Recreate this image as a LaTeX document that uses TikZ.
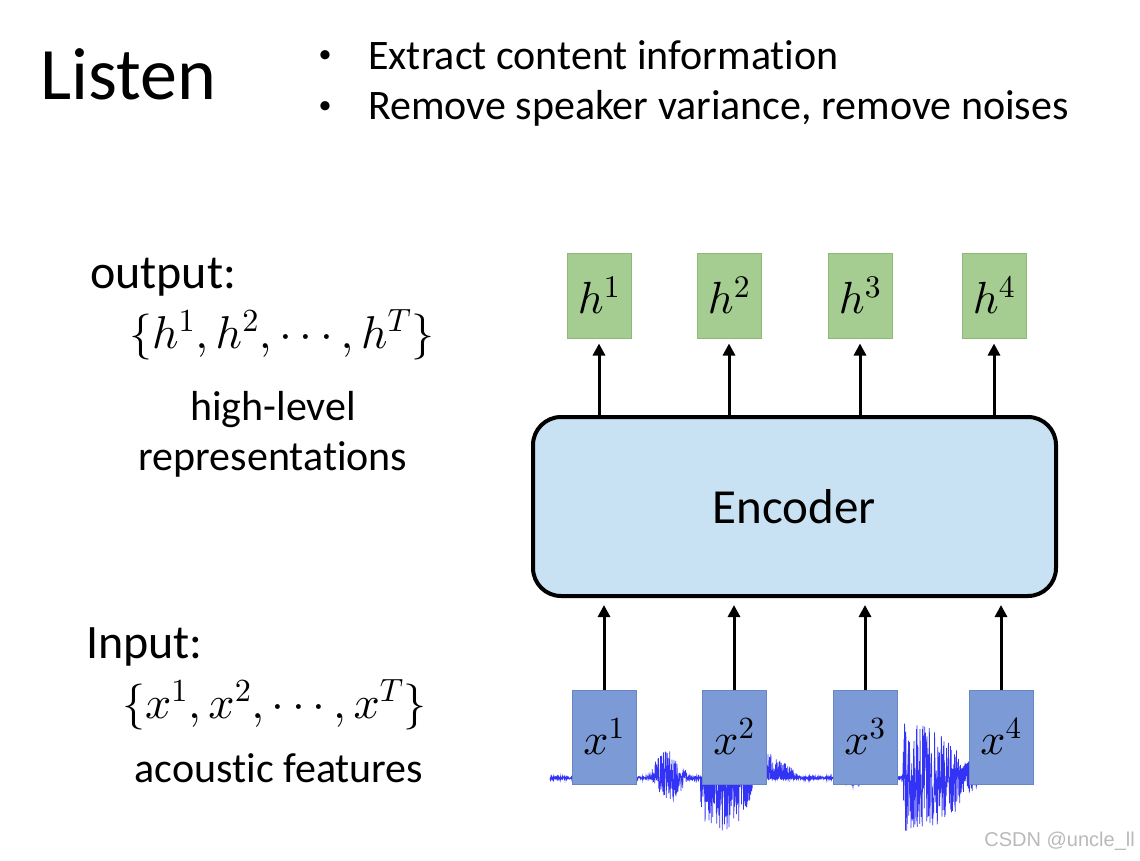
\RequirePackage{fix-cm}
\documentclass[tikz,border=0pt]{standalone}
\usepackage{fontspec}
\setmainfont{Carlito}[Ligatures=NoCommon]
\newfontfamily\wmfont{Liberation Sans}
\DeclareFontShape{OML}{cmm}{m}{it}{<->cmmi10}{}
\DeclareFontShape{OMS}{cmsy}{m}{n}{<->cmsy10}{}
\DeclareFontShape{OT1}{cmr}{m}{n}{<->cmr10}{}
\usepackage{tikz}
\usetikzlibrary{arrows.meta}

\definecolor{hgreen}{RGB}{166,205,145}
\definecolor{hgreenline}{RGB}{140,186,118}
\definecolor{xblue}{RGB}{124,154,214}
\definecolor{xblueline}{RGB}{104,134,198}
\definecolor{encfill}{RGB}{200,225,243}
\definecolor{wave}{RGB}{15,15,245}

\begin{document}
\begin{tikzpicture}[x=1pt,y=-1pt,
	declare function={
		bump(\t,\c,\w)=max(0,1-((\t-\c)/\w)*((\t-\c)/\w));
		up(\t)=1.5+26*bump(\t,668,20)+26*bump(\t,755,45)*(\t>705)+3*bump(\t,850,10)+55*bump(\t,905,75)*(\t>903);
		dn(\t)=1.5+20*bump(\t,670,18)+55*bump(\t,722,35)*(\t>700)+8*bump(\t,855,15)+52*bump(\t,912,70)*(\t>903);
		wv(\t,\r)=778-\r*((\r>0)*up(\t)+(1-(\r>0))*dn(\t));
	},
	lbl/.style={inner sep=0pt, font=\fontsize{42}{50}\selectfont},
	bul/.style={inner sep=0pt, font=\fontsize{26}{30}\selectfont},
	hbox/.style={draw=hgreenline, fill=hgreen, line width=1pt, minimum width=64pt, minimum height=85pt, inner sep=0pt, font=\fontsize{45}{46}\selectfont},
	xbox/.style={draw=xblueline, fill=xblue, line width=1pt, minimum width=64pt, minimum height=94pt, inner sep=0pt, font=\fontsize{44}{46}\selectfont},
	arr/.style={line width=3pt, -{Triangle[width=12pt,length=12pt]}}]
	\pgfmathsetseed{5}
	\useasboundingbox (0,0) rectangle (1140,861);
	
	% heading
	\node [lbl, anchor=base west, font=\fontsize{74}{80}\selectfont] (title) at (40,100) {Listen};
	\node [bul] (bulA) at (325,57) {\textbullet};
	\node [lbl, anchor=base west] (itemA) at (368,70) {Extract content information};
	\node [bul] (bulB) at (325,108) {\textbullet};
	\node [lbl, anchor=base west] (itemB) at (368,120) {Remove speaker variance, remove noises};
	
	% left side
	\node [lbl, anchor=base west, font=\fontsize{48}{50}\selectfont] (outlbl) at (90,288) {output:};
	\node [lbl, anchor=base west, font=\fontsize{46}{50}\selectfont] (outset) at (129,348) {$\{h^1,h^2,\cdots,h^T\}$};
	\node [lbl, anchor=base] (hlA) at (273,420) {high-level};
	\node [lbl, anchor=base] (hlB) at (273,470) {representations};
	\node [lbl, anchor=base west, font=\fontsize{48}{50}\selectfont] (inlbl) at (86,658) {Input:};
	\node [lbl, anchor=base west, font=\fontsize{46}{50}\selectfont] (inset) at (122,718) {$\{x^1,x^2,\cdots,x^T\}$};
	\node [lbl, anchor=base] (acf) at (279,782) {acoustic features};
	
	% waveform
	\draw [wave, line width=0.8pt, opacity=0.85] plot [domain=550:1000, samples=1801, variable=\t] (\t, {wv(\t,rand)});
	
	\node [draw, line width=4pt, fill=encfill, rounded corners=28pt, minimum width=523pt, minimum height=179pt, font=\fontsize{49}{50}\selectfont] (enc) at (794.5,506.5) {Encoder};
	
	\foreach \i/\hx/\xx in {1/599/604, 2/729/734, 3/860/865, 4/994/1001} {
		\node [hbox] (h\i) at (\hx,295.5) {$h^{\i}$};
		\node [xbox] (x\i) at (\xx,737) {$x^{\i}$};
		\draw [arr, shorten >=5pt] (enc.north -| h\i) -- (h\i.south);
		\draw [arr, shorten >=7pt] (x\i.north) -- (x\i.north |- enc.south);
	}
	
	\node [anchor=base east, inner sep=0pt, text=gray!55, font=\wmfont\fontsize{20}{22}\selectfont] (mark) at (1135,846) {CSDN @uncle\_ll};
\end{tikzpicture}
\end{document}
